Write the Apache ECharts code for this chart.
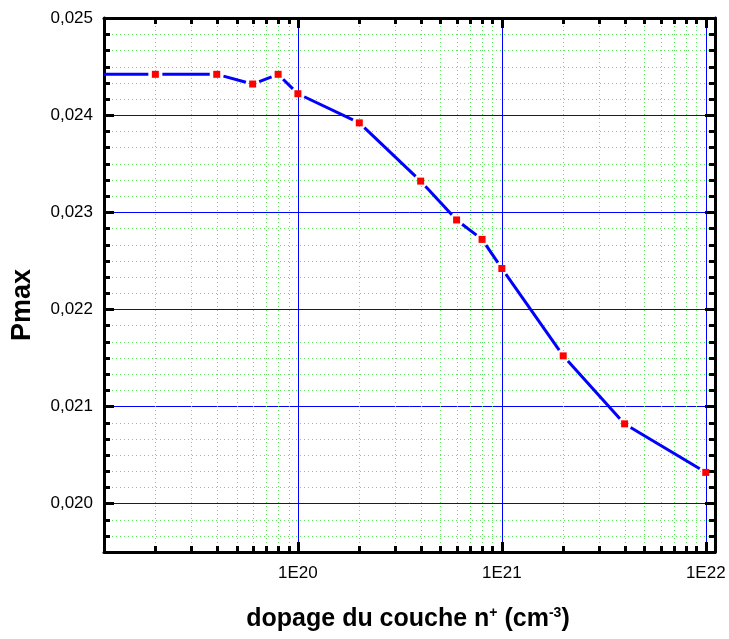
<!DOCTYPE html>
<html>
<head>
<meta charset="utf-8">
<script src="https://cdn.jsdelivr.net/npm/echarts@6/dist/echarts.min.js"></script>
<style>
  html, body { margin: 0; padding: 0; background: #fff; }
  #chart { width: 729px; height: 639px; }
</style>
</head>
<body>
<div id="chart"></div>
<script>
// n+ layer doping (cm^-3) and the resulting maximum power
const doping = [1e19, 2e19, 4e19, 6e19, 8e19, 1e20, 2e20, 4e20, 6e20, 8e20, 1e21, 2e21, 4e21, 1e22];
const pmax   = [0.02442, 0.02442, 0.02442, 0.02432, 0.02442, 0.02422, 0.02392, 0.02332,
                0.02292, 0.02272, 0.02242, 0.02152, 0.02082, 0.02032];

// axis ranges
const xMin = 1.12e19, xMax = 1.11e22;
const yMin = 0.0195, yMax = 0.025;

// minor grid positions: 2..9 within each decade, and sixths of 0.001 on y
const minorMultiples = [2, 3, 4, 5, 6, 7, 8, 9];
const decades = [1e19, 1e20, 1e21];
const xMinor = [];
decades.forEach(d => minorMultiples.forEach(m => { const v = d * m; if (v > xMin && v < xMax) xMinor.push(v); }));
const yMajorStep = 0.001, ySub = 6;
const yMinor = [];
for (let k = 1; k < Math.round((yMax - yMin) / (yMajorStep / ySub)); k++) {
  const v = yMin + k * yMajorStep / ySub;
  if (k % ySub !== 3) yMinor.push(v);
}

const FONT = '"Liberation Sans", Arial, sans-serif';
const axisBlack = { color: '#000', width: 3 };

const chart = echarts.init(document.getElementById('chart'), null, { renderer: 'canvas' });

function decadeLabel(v) {
  const e = Math.log10(v);
  const r = Math.round(e);
  if (Math.abs(e - r) > 1e-6) return '';
  return '1E' + r;
}
function yLabel(v) {
  const m = v * 1000;
  if (Math.abs(m - Math.round(m)) > 1e-6) return '';
  return v.toFixed(3).replace('.', ',');
}

const minorTickLen = 6;
const majorTick = { inside: true, length: 10, lineStyle: { color: '#000', width: 3 } };

chart.setOption({
  animation: false,
  backgroundColor: '#fff',
  grid: { left: 104, right: 14, top: 18, bottom: 87, containLabel: false },
  xAxis: [
    {
      type: 'log', logBase: 10, min: xMin, max: xMax, position: 'bottom',
      axisLine: { lineStyle: axisBlack },
      axisTick: majorTick,
      axisLabel: { formatter: decadeLabel, fontSize: 17, color: '#000', fontFamily: FONT, margin: 13,
                   showMinLabel: true, showMaxLabel: true },
      splitLine: { show: true, lineStyle: { color: '#0000ff', width: 1 } },
      minorTick: { show: false }, minorSplitLine: { show: false }
    },
    {
      type: 'log', logBase: 10, min: xMin, max: xMax, position: 'top',
      axisLine: { lineStyle: axisBlack },
      axisTick: majorTick,
      axisLabel: { show: false },
      splitLine: { show: false }
    }
  ],
  yAxis: [
    {
      type: 'value', min: yMin, max: yMax, splitNumber: 5, position: 'left',
      axisLine: { lineStyle: axisBlack },
      axisTick: majorTick,
      axisLabel: { formatter: yLabel, fontSize: 17, color: '#000', fontFamily: FONT, margin: 11 },
      splitLine: { show: true, lineStyle: { color: '#0000ff', width: 1 } }
    },
    {
      type: 'value', min: yMin, max: yMax, splitNumber: 5, position: 'right',
      axisLine: { lineStyle: axisBlack },
      axisTick: majorTick,
      axisLabel: { show: false },
      splitLine: { show: false }
    }
  ],
  graphic: [
    {
      type: 'text', x: 23, y: 305, rotation: Math.PI / 2,
      style: { text: 'Pmax', fill: '#000', font: 'bold 27px ' + FONT, align: 'center', verticalAlign: 'middle' }
    },
    {
      type: 'text', x: 408, y: 619,
      style: {
        text: '{m|dopage du couche n}{s|+}{m| (cm}{s|-3}{m|)}',
        align: 'center', verticalAlign: 'middle', fill: '#000',
        rich: {
          m: { fontSize: 25, fontWeight: 'bold', fontFamily: FONT, fill: '#000' },
          s: { fontSize: 14, fontWeight: 'bold', fontFamily: FONT, fill: '#000', verticalAlign: 'top' }
        }
      }
    }
  ],
  series: [
    {
      // dotted minor grid along x with minor ticks on bottom and top
      type: 'custom', xAxisIndex: 0, yAxisIndex: 0, silent: true, z: 1,
      data: xMinor.map(v => [v, yMin]),
      renderItem: function (params, api) {
        const cs = params.coordSys;
        const x = Math.round(api.coord([api.value(0), yMin])[0]) + 0.5;
        const top = cs.y, bot = cs.y + cs.height;
        return {
          type: 'group', children: [
            { type: 'line', shape: { x1: x, y1: top, x2: x, y2: bot },
              style: { stroke: '#5fe85f', lineWidth: 1, lineDash: [1, 3] } },
            { type: 'line', shape: { x1: x, y1: bot, x2: x, y2: bot - minorTickLen },
              style: { stroke: '#000', lineWidth: 3 } },
            { type: 'line', shape: { x1: x, y1: top, x2: x, y2: top + minorTickLen },
              style: { stroke: '#000', lineWidth: 3 } }
          ]
        };
      }
    },
    {
      // dotted minor grid along y with minor ticks on left and right
      type: 'custom', xAxisIndex: 0, yAxisIndex: 0, silent: true, z: 1,
      data: yMinor.map(v => [xMin, v]),
      renderItem: function (params, api) {
        const cs = params.coordSys;
        const y = Math.round(api.coord([xMin, api.value(1)])[1]) + 0.5;
        const left = cs.x, right = cs.x + cs.width;
        return {
          type: 'group', children: [
            { type: 'line', shape: { x1: left, y1: y, x2: right, y2: y },
              style: { stroke: '#5fe85f', lineWidth: 1, lineDash: [1, 3] } },
            { type: 'line', shape: { x1: left, y1: y, x2: left + minorTickLen, y2: y },
              style: { stroke: '#000', lineWidth: 3 } },
            { type: 'line', shape: { x1: right, y1: y, x2: right - minorTickLen, y2: y },
              style: { stroke: '#000', lineWidth: 3 } }
          ]
        };
      }
    },
    {
      // connecting line, each segment stopped short of the markers
      type: 'custom', xAxisIndex: 0, yAxisIndex: 0, silent: true, z: 3, clip: true,
      data: doping.map((d, i) => [d, pmax[i]]),
      renderItem: function (params, api) {
        const i = params.dataIndex;
        if (i === 0) return null;
        const a = api.coord([doping[i - 1], pmax[i - 1]]);
        const b = api.coord([doping[i], pmax[i]]);
        const dx = b[0] - a[0], dy = b[1] - a[1];
        const len = Math.hypot(dx, dy);
        const gap = 7;
        if (len <= 2 * gap) return null;
        const ux = dx / len, uy = dy / len;
        return {
          type: 'line',
          shape: { x1: a[0] + ux * gap, y1: a[1] + uy * gap, x2: b[0] - ux * gap, y2: b[1] - uy * gap },
          style: { stroke: '#0000ff', lineWidth: 3 }
        };
      }
    },
    {
      type: 'scatter', xAxisIndex: 0, yAxisIndex: 0, z: 4, clip: true,
      symbol: 'rect', symbolSize: 7,
      itemStyle: { color: '#ff0000', opacity: 1 },
      data: doping.map((d, i) => [d, pmax[i]])
    }
  ]
});
</script>
</body>
</html>
